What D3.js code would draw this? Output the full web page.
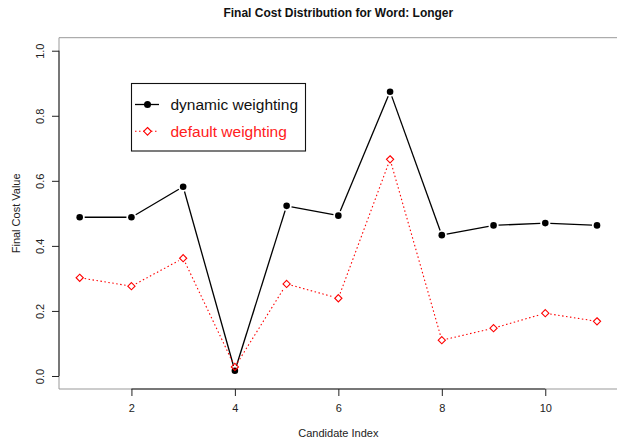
<!DOCTYPE html>
<html><head><meta charset="utf-8">
<script src="https://cdn.jsdelivr.net/npm/d3@7"></script>
<style>body{margin:0;background:#fff}svg{display:block}text{font-family:"Liberation Sans",Arial,sans-serif}</style>
</head><body>
<script>
const candidates = [1,2,3,4,5,6,7,8,9,10,11];
const dynamicWeighting = [0.488,0.488,0.582,0.016,0.523,0.493,0.874,0.433,0.463,0.470,0.463];
const defaultWeighting = [0.302,0.276,0.362,0.028,0.283,0.239,0.666,0.110,0.147,0.193,0.168];
const xTicks = [2,4,6,8,10];
const yTicks = [0.0,0.2,0.4,0.6,0.8,1.0];
const seriesNames = ["dynamic weighting","default weighting"];
const title = "Final Cost Distribution for Word: Longer";
const xLabel = "Candidate Index", yLabel = "Final Cost Value";

const W = 617, H = 439;
const svg = d3.select("body").append("svg").attr("width", W).attr("height", H);
const L = 59, R = 617.7, T = 37.7, B = 389;
const x = d3.scaleLinear().domain([0.6, 11.4]).range([L, R]);
const y = d3.scaleLinear().domain([-0.04, 1.04]).range([B, T]);

// box (right edge falls outside the picture)
svg.append("path").attr("d", `M${R},${T}H${L}V${B}H${R}`)
  .attr("fill", "none").attr("stroke", "#999").attr("stroke-width", 1);

// axes
const xAxis = d3.axisBottom(x).tickValues(xTicks).tickSize(7).tickPadding(8).tickFormat(d3.format("d"));
const gx = svg.append("g").attr("transform", `translate(0,${B})`).call(xAxis);
gx.select(".domain").attr("d", `M${x(2)},0H${x(10)}`).attr("stroke", "#222");
gx.selectAll(".tick line").attr("stroke", "#222");
gx.selectAll("text").attr("font-size", 11).attr("fill", "#222");

const yAxis = d3.axisLeft(y).tickValues(yTicks).tickSize(7).tickFormat(d3.format(".1f"));
const gy = svg.append("g").attr("transform", `translate(${L},0)`).call(yAxis);
gy.select(".domain").attr("d", `M0,${y(0)}V${y(1)}`).attr("stroke", "#222");
gy.selectAll(".tick line").attr("stroke", "#222");
gy.selectAll("text").attr("font-size", 11).attr("fill", "#222")
  .attr("text-anchor", "middle").attr("x", 0).attr("dy", 0)
  .attr("transform", "translate(-15,0) rotate(-90)");

// title + labels
svg.append("text").attr("x", (L + R) / 2).attr("y", 17).attr("text-anchor", "middle")
  .attr("font-size", 12).attr("font-weight", "bold").attr("fill", "#111").text(title);
svg.append("text").attr("x", (L + R) / 2).attr("y", 437).attr("text-anchor", "middle")
  .attr("font-size", 11).attr("fill", "#222").text(xLabel);
svg.append("text").attr("transform", `translate(20,${(T + B) / 2}) rotate(-90)`).attr("text-anchor", "middle")
  .attr("font-size", 11).attr("fill", "#222").text(yLabel);

// lines with gaps (R type="b")
function gappedSegments(vals, gap) {
  const segs = [];
  for (let i = 0; i < vals.length - 1; i++) {
    const x1 = x(candidates[i]), y1 = y(vals[i]), x2 = x(candidates[i+1]), y2 = y(vals[i+1]);
    const dx = x2 - x1, dy = y2 - y1, len = Math.hypot(dx, dy);
    if (len > 2 * gap) {
      const ux = dx / len, uy = dy / len;
      segs.push([x1 + ux * gap, y1 + uy * gap, x2 - ux * gap, y2 - uy * gap]);
    }
  }
  return segs;
}
const series = [
  {name: seriesNames[0], vals: dynamicWeighting, color: "#000", dash: null, width: 1.3},
  {name: seriesNames[1], vals: defaultWeighting, color: "#ff0000", dash: "1.5,2.5", width: 1.1}
];
series.forEach(s => {
  svg.append("g").selectAll("line").data(gappedSegments(s.vals, 5)).join("line")
    .attr("x1", d => d[0]).attr("y1", d => d[1]).attr("x2", d => d[2]).attr("y2", d => d[3])
    .attr("stroke", s.color).attr("stroke-width", s.width).attr("stroke-dasharray", s.dash);
});
const diamond = r => `M0,${-r}L${r},0L0,${r}L${-r},0Z`;
svg.append("g").selectAll("circle").data(candidates).join("circle")
  .attr("cx", (d) => x(d)).attr("cy", (d, i) => y(dynamicWeighting[i])).attr("r", 3.3).attr("fill", "#000");
svg.append("g").selectAll("path").data(candidates).join("path")
  .attr("transform", (d, i) => `translate(${x(d)},${y(defaultWeighting[i])})`)
  .attr("d", diamond(3.6)).attr("fill", "none").attr("stroke", "#ff0000").attr("stroke-width", 1.1);

// legend
const lg = svg.append("g");
lg.append("rect").attr("x", 131.5).attr("y", 83.5).attr("width", 174).attr("height", 67.5)
  .attr("fill", "#fff").attr("stroke", "#111").attr("stroke-width", 1.1);
const rows = [104.5, 131.3];
series.forEach((s, i) => {
  lg.append("line").attr("x1", 135).attr("x2", 159).attr("y1", rows[i]).attr("y2", rows[i])
    .attr("stroke", s.color).attr("stroke-width", s.width).attr("stroke-dasharray", s.dash);
  if (i === 0) lg.append("circle").attr("cx", 147.5).attr("cy", rows[i]).attr("r", 3.5).attr("fill", "#000");
  else lg.append("path").attr("transform", `translate(147.5,${rows[i]})`).attr("d", diamond(3.8))
    .attr("fill", "#fff").attr("stroke", "#ff0000").attr("stroke-width", 1.1);
  lg.append("text").attr("x", 170.5).attr("y", rows[i] + 5.5).attr("font-size", 15.5)
    .attr("fill", i === 0 ? "#111" : "#ff2020").text(s.name);
});
</script>
</body></html>
